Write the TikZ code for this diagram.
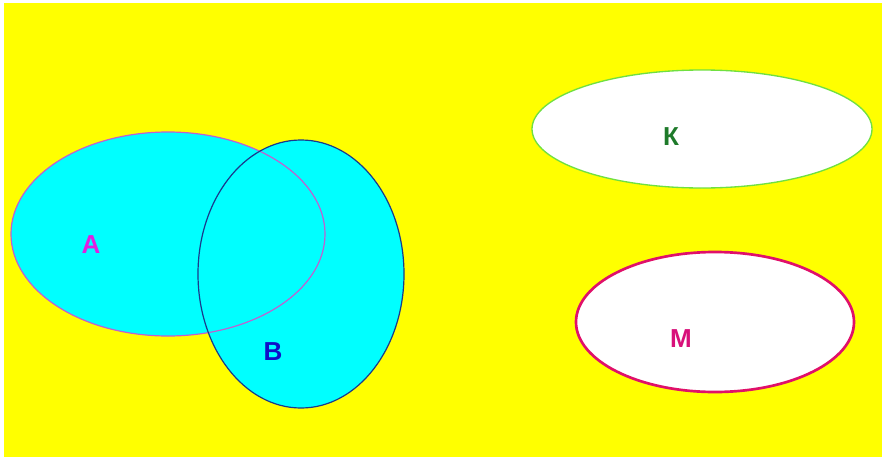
\documentclass[tikz,border=0pt]{standalone}
\usepackage{fontspec}
\setmainfont{Liberation Sans}
\definecolor{bgyellow}{HTML}{FFFF00}
\definecolor{setcyan}{HTML}{00FFFF}
\definecolor{lineA}{HTML}{C060D0}
\definecolor{lineB}{HTML}{1A3A8C}
\definecolor{lineK}{HTML}{70E040}
\definecolor{lineM}{HTML}{E0106A}
\definecolor{textA}{HTML}{E020E0}
\definecolor{textB}{HTML}{1010C8}
\definecolor{textK}{HTML}{1E7A2A}
\definecolor{textM}{HTML}{D8107A}

\begin{document}
\begin{tikzpicture}[x=0.75pt,y=-0.75pt,
    setlabel/.style={font=\fontsize{19.5}{19.5}\selectfont\bfseries,inner sep=0pt}]
    \useasboundingbox (0,0) rectangle (882,457);
    \fill[white] (0,0) rectangle (882,457);
    \fill[bgyellow] (4,3) rectangle (882,457);
    % sets A and B
    \fill[setcyan] (168,234) ellipse [x radius=157,y radius=102];
    \fill[setcyan] (301,274) ellipse [x radius=103,y radius=134];
    \draw[lineA,line width=0.9pt] (168,234) ellipse [x radius=157,y radius=102];
    \draw[lineB,line width=0.9pt] (301,274) ellipse [x radius=103,y radius=134];
    % sets K and M
    \draw[lineK,fill=white,line width=1pt] (702,129) ellipse [x radius=170,y radius=59];
    \draw[lineM,fill=white,line width=2pt] (715,322) ellipse [x radius=139,y radius=70];
    % labels
    \node[setlabel,textA] (labA) at (91,245) {А};
    \node[setlabel,textB] (labB) at (273,352) {В};
    \node[setlabel,textK] (labK) at (671,137) {К};
    \node[setlabel,textM] (labM) at (681,339) {М};
\end{tikzpicture}
\end{document}
